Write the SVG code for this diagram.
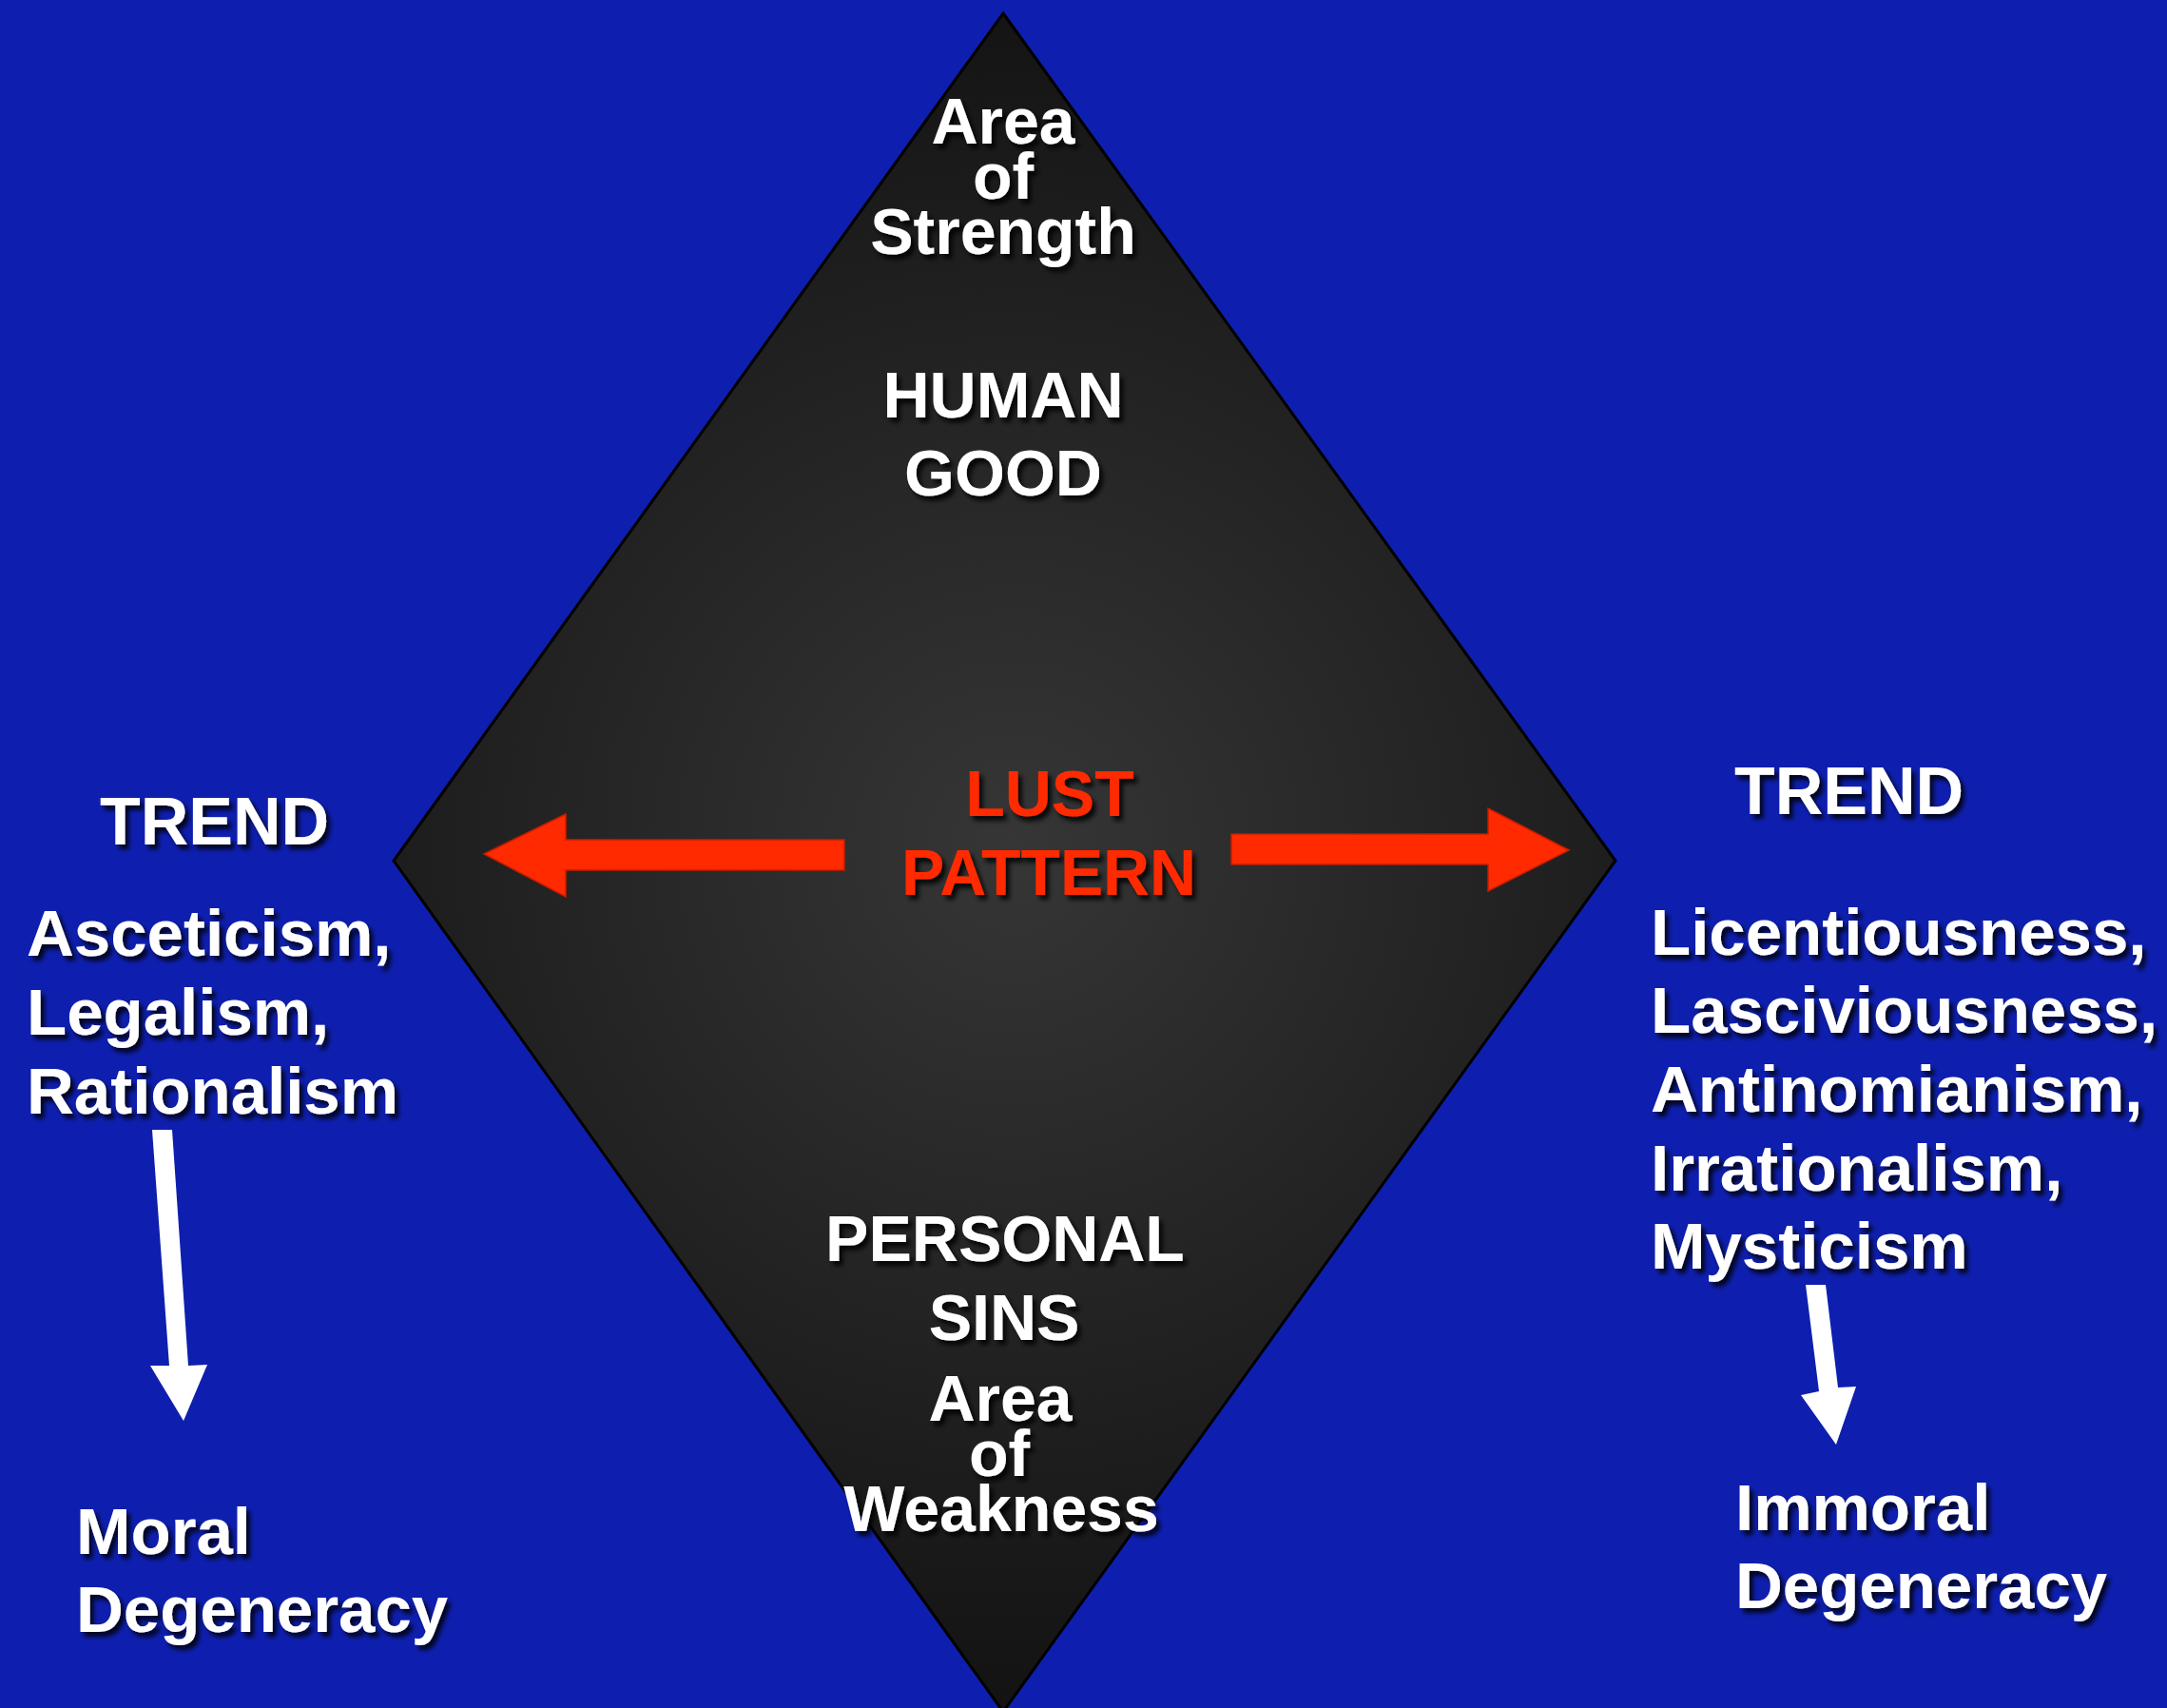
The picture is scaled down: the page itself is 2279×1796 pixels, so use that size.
<svg xmlns="http://www.w3.org/2000/svg" width="2279" height="1796" viewBox="0 0 2279 1796">
<defs>
<radialGradient id="dg" gradientUnits="userSpaceOnUse" cx="1065" cy="890" r="950">
<stop offset="0" stop-color="#363636"/>
<stop offset="0.55" stop-color="#222222"/>
<stop offset="1" stop-color="#111111"/>
</radialGradient>
<filter id="sh" x="-20%" y="-40%" width="140%" height="180%">
<feDropShadow dx="4" dy="5" stdDeviation="2.5" flood-color="#000000" flood-opacity="0.85"/>
</filter>
</defs>
<style>
text{font-family:"Liberation Sans",Arial,sans-serif;font-weight:bold;fill:#ffffff;filter:url(#sh)}
.c{font-size:68px;text-anchor:middle}
.s{font-size:69px}
.t{font-size:70px}
.r{fill:#ff2a00}
.ra{fill:#ff2a00;stroke:#c81c00;stroke-width:1.5}
.wa{fill:#ffffff}
</style>
<rect width="2279" height="1796" fill="#0e1faf"/>
<g id="diamond">
<polygon points="1055,14 1699,905 1055,1800 414,905" fill="url(#dg)" stroke="#000" stroke-width="3"/>
</g>
<g id="strength">
<text class="c" x="1055" y="151">Area</text>
<text class="c" x="1055" y="209">of</text>
<text class="c" x="1055" y="267">Strength</text>
</g>
<g id="human-good">
<text class="c" x="1055" y="439">HUMAN</text>
<text class="c" x="1055" y="521">GOOD</text>
</g>
<g id="lust-pattern">
<text class="c r" x="1104" y="858">LUST</text>
<text class="c r" x="1103" y="941" textLength="310" lengthAdjust="spacingAndGlyphs">PATTERN</text>
</g>
<g id="personal-sins">
<text class="c" x="1057" y="1326">PERSONAL</text>
<text class="c" x="1056" y="1409">SINS</text>
</g>
<g id="weakness">
<text class="c" x="1052" y="1494">Area</text>
<text class="c" x="1051" y="1552">of</text>
<text class="c" x="1053" y="1610">Weakness</text>
</g>
<g id="left-trend">
<text class="t" x="105" y="888">TREND</text>
<text class="s" x="28" y="1005">Asceticism,</text>
<text class="s" x="28" y="1088">Legalism,</text>
<text class="s" x="28" y="1171">Rationalism</text>
</g>
<g id="moral-degeneracy">
<text class="s" x="80" y="1634">Moral</text>
<text class="s" x="80" y="1716">Degeneracy</text>
</g>
<g id="right-trend">
<text class="t" x="1824" y="856">TREND</text>
<text class="s" x="1736" y="1004">Licentiousness,</text>
<text class="s" x="1736" y="1086">Lasciviousness,</text>
<text class="s" x="1736" y="1169">Antinomianism,</text>
<text class="s" x="1736" y="1252">Irrationalism,</text>
<text class="s" x="1736" y="1334">Mysticism</text>
</g>
<g id="immoral-degeneracy">
<text class="s" x="1825" y="1609">Immoral</text>
<text class="s" x="1825" y="1691">Degeneracy</text>
</g>
<g id="connectors">
<polygon class="ra" points="509,898 595,856 595,883 888,883 888,915 595,915 595,943"/>
<polygon class="ra" points="1650,894 1565,850 1565,877 1295,877 1295,909 1565,909 1565,937"/>
<polygon class="wa" points="160,1188 181,1188 198,1436 218,1435 193,1494 158,1436 178,1436"/>
<polygon class="wa" points="1899,1351 1920,1351 1933,1459 1952,1458 1931,1519 1894,1467 1913,1463"/>
</g>
</svg>
